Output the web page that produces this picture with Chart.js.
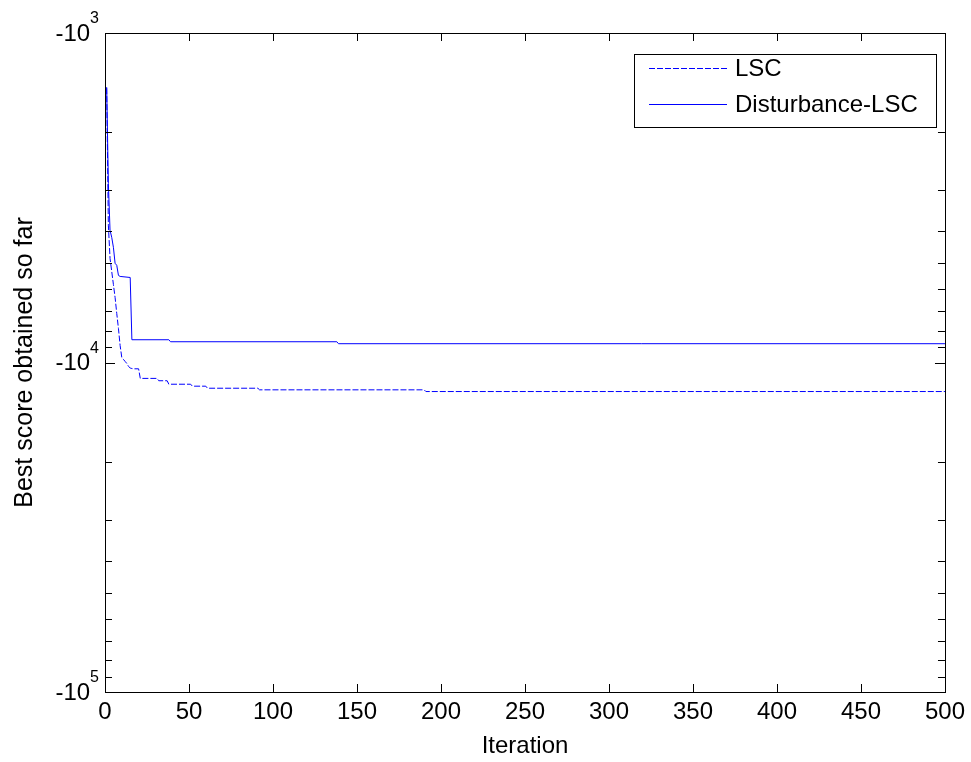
<!DOCTYPE html>
<html>
<head>
<meta charset="utf-8">
<script src="https://cdn.jsdelivr.net/npm/chart.js@4/dist/chart.umd.min.js"></script>
<style>
  html, body { margin: 0; padding: 0; background: #fff; }
  #chart { display: block; }
</style>
</head>
<body>
<canvas id="chart" width="971" height="762"></canvas>
<script>
// convergence curves (best score per iteration)
const lscIter  = [1, 2, 3, 4, 5, 6, 7, 8, 9, 10, 11, 12, 13, 14, 15, 16, 17, 20, 21, 31, 32, 37, 38, 51, 52, 60, 61, 91, 92, 190, 191, 500];
const lscScore = [-1470, -3830, -4830, -5290, -5795, -6345, -7100, -7880, -8880, -9660, -9790, -9930, -10070, -10280, -10390, -10430, -10450, -10450,
                  -11175, -11175, -11360, -11360, -11640, -11640, -11800, -11800, -11970, -11970, -12105, -12105, -12250, -12250];

const distIter  = [1, 2, 3, 4, 5, 6, 7, 8, 9, 15, 16, 38, 39, 138, 139, 500];
const distScore = [-1460, -2860, -3970, -4170, -4470, -5000, -5070, -5440, -5480, -5520, -8530, -8530, -8650, -8650, -8770, -8770];

const seriesNames = ['LSC', 'Disturbance-LSC'];
const yTickExps = [3, 4, 5];           // labels -10^3, -10^4, -10^5
const xTickStep = 50;

const FONT = 'Arial, "Liberation Sans", Helvetica, sans-serif';

// log axis shows magnitude of the (negative) score, reversed so -10^3 is on top
function toPoints(iters, scores) {
  return iters.map((it, i) => ({ x: it, y: -scores[i] }));
}

// MATLAB-like box, inward ticks, superscript y labels, boxed legend
const matlabAxes = {
  id: 'matlabAxes',
  afterDraw(chart) {
    const { ctx, chartArea: a, scales: { x, y } } = chart;
    ctx.save();
    ctx.strokeStyle = '#000';
    ctx.lineWidth = 1;
    ctx.beginPath();
    // x ticks (top and bottom)
    for (let v = x.min; v <= x.max; v += xTickStep) {
      const px = Math.round(x.getPixelForValue(v)) + 0.5;
      ctx.moveTo(px, a.bottom); ctx.lineTo(px, a.bottom - 8);
      ctx.moveTo(px, a.top); ctx.lineTo(px, a.top + 8);
    }
    // y ticks: major at decades, minor at 2..9
    for (let e = yTickExps[0]; e <= yTickExps[yTickExps.length - 1]; e++) {
      for (let m = 1; m <= 9; m++) {
        const v = m * Math.pow(10, e);
        if (v > y.max) break;
        const py = Math.round(y.getPixelForValue(v)) + 0.5;
        const len = m === 1 ? 10 : 7;
        ctx.moveTo(a.left, py); ctx.lineTo(a.left + len, py);
        ctx.moveTo(a.right, py); ctx.lineTo(a.right - len, py);
      }
    }
    ctx.stroke();
    ctx.strokeRect(Math.round(a.left) + 0.5, Math.round(a.top) + 0.5,
                   Math.round(a.right - a.left), Math.round(a.bottom - a.top));

    // y tick labels with superscript exponent
    ctx.fillStyle = '#000';
    ctx.textBaseline = 'middle';
    yTickExps.forEach(e => {
      const py = y.getPixelForValue(Math.pow(10, e));
      ctx.font = '16px ' + FONT;
      const ew = ctx.measureText(String(e)).width;
      ctx.textAlign = 'right';
      ctx.fillText(String(e), 99, py - 14);
      ctx.font = '24px ' + FONT;
      ctx.fillText('-10', 99 - ew, py + 1);
    });

    // legend
    const lx = 634, ly = 54, lw = 302, lh = 73;
    ctx.fillStyle = '#fff';
    ctx.fillRect(lx, ly, lw, lh);
    ctx.strokeRect(lx + 0.5, ly + 0.5, lw, lh);
    chart.data.datasets.forEach((ds, i) => {
      const yy = 68.5 + i * 36;
      ctx.strokeStyle = ds.borderColor;
      ctx.lineWidth = ds.borderWidth;
      ctx.setLineDash(ds.borderDash || []);
      ctx.beginPath();
      ctx.moveTo(649, yy); ctx.lineTo(727, yy);
      ctx.stroke();
      ctx.setLineDash([]);
      ctx.fillStyle = '#000';
      ctx.font = '24px ' + FONT;
      ctx.textAlign = 'left';
      ctx.fillText(ds.label, 735, yy + 1);
    });
    ctx.restore();
  }
};

new Chart(document.getElementById('chart'), {
  type: 'line',
  data: {
    datasets: [
      { label: seriesNames[0], data: toPoints(lscIter, lscScore), borderColor: '#0000ff', borderWidth: 1, borderDash: [6, 2], pointRadius: 0, tension: 0, fill: false },
      { label: seriesNames[1], data: toPoints(distIter, distScore), borderColor: '#0000ff', borderWidth: 1, pointRadius: 0, tension: 0, fill: false }
    ]
  },
  options: {
    responsive: false,
    animation: false,
    devicePixelRatio: 1,
    layout: { padding: { left: 0, top: 33, right: 22, bottom: 0 } },
    plugins: { legend: { display: false }, tooltip: { enabled: false } },
    scales: {
      x: {
        type: 'linear', min: 0, max: 500,
        grid: { display: false, drawTicks: false },
        border: { display: false },
        ticks: { stepSize: xTickStep, color: '#000', padding: 6, maxRotation: 0, font: { family: FONT, size: 24 } },
        title: { display: true, text: 'Iteration', color: '#000', padding: { top: 0, bottom: 1 }, font: { family: FONT, size: 24 } },
        afterFit: s => { s.height = 70; }
      },
      y: {
        type: 'logarithmic', min: 1000, max: 100000, reverse: true,
        grid: { display: false, drawTicks: false },
        border: { display: false },
        ticks: { display: false },
        title: { display: true, text: 'Best score obtained so far', color: '#000', padding: { top: 10, bottom: 0 }, font: { family: FONT, size: 25 } },
        afterFit: s => { s.width = 105; }
      }
    }
  },
  plugins: [matlabAxes]
});
</script>
</body>
</html>
